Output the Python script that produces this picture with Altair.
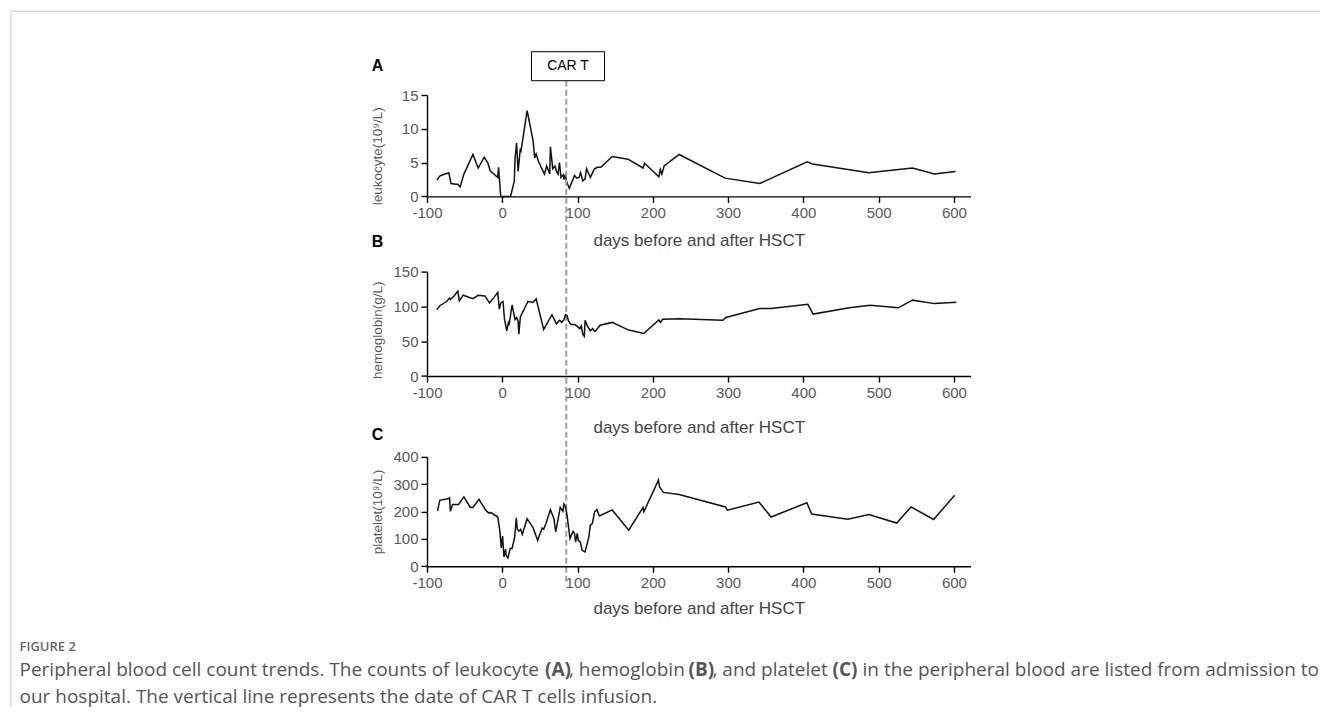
import altair as alt
import pandas as pd

# ---------------- data ----------------
x_ticks = [-100, 0, 100, 200, 300, 400, 500, 600]
car_t_day = 85

leuk_days = [-87, -83, -79, -71, -68, -62, -59, -56, -51, -39, -32, -24, -19, -16, -6, -5, -2, 11, 16, 17,
             19, 21, 24, 25, 33, 41, 43, 45, 48, 56, 59, 61, 63, 64, 67, 70, 72, 74, 76, 78,
             81, 82, 84, 85, 89, 92, 96, 99, 102, 104, 107, 110, 112, 117, 122, 126, 131, 146, 167, 187,
             189, 208, 210, 212, 215, 235, 296, 342, 405, 412, 487, 545, 574, 602]
leuk_vals = [2.4, 3.0, 3.2, 3.5, 1.9, 1.8, 1.8, 1.4, 3.3, 6.2, 4.2, 5.8, 4.9, 3.8, 2.8, 4.3, 0, 0, 2.3, 5.7,
             7.9, 3.7, 7.1, 6.8, 12.7, 8.2, 5.7, 6.3, 5.2, 3.3, 4.5, 3.9, 3.3, 7.3, 4.1, 4.5, 3.7, 3.3, 5.0, 2.8,
             3.2, 2.5, 3.3, 2.3, 1.2, 2.0, 3.1, 2.7, 2.8, 3.5, 2.3, 2.6, 4.1, 2.8, 4.0, 4.3, 4.3, 5.9, 5.5, 4.2,
             4.9, 2.9, 4.0, 3.3, 4.5, 6.2, 2.7, 1.9, 5.1, 4.8, 3.5, 4.2, 3.3, 3.7]

hgb_days = [-87, -83, -74, -70, -69, -64, -59, -57, -52, -39, -32, -23, -17, -11, -6, -4, -2, 1, 3, 6,
            8, 9, 13, 17, 19, 21, 22, 24, 34, 41, 45, 55, 66, 72, 76, 79, 82, 84, 86, 88,
            91, 96, 99, 103, 105, 107, 109, 110, 113, 117, 120, 123, 125, 130, 146, 168, 188, 208, 210, 213,
            235, 293, 297, 342, 357, 406, 413, 461, 489, 526, 545, 574, 603]
hgb_vals = [95, 101, 107, 112, 110, 115, 122, 108, 116, 111, 116, 115, 105, 113, 120, 96, 105, 107, 81, 65,
            76, 73, 102, 81, 84, 79, 60, 85, 107, 106, 111, 67, 88, 75, 80, 77, 81, 88, 87, 79,
            74, 74, 72, 68, 72, 60, 57, 80, 72, 65, 68, 64, 66, 73, 77, 66, 61, 80.5, 77, 81.5,
            82.4, 80, 84, 97, 97, 103, 89, 98, 101.5, 98, 109, 104, 106]

plt_days = [-86, -83, -71, -70, -69, -66, -58, -51, -42.5, -39, -31, -22, -18, -15, -6, -3.5, -1.3, 0.4, 2.2, 4.4,
            5, 7.5, 10.6, 13, 16.4, 18.6, 20, 22, 24.4, 26.6, 33, 41, 47, 53, 55, 58, 64, 68.6, 71, 75,
            77, 80.6, 82, 84, 86, 90, 94, 96, 97.4, 99.6, 101, 103.6, 106, 108, 110, 115, 117, 119.6, 122.7, 125.7,
            129, 146, 168, 187, 188, 207.5, 209, 214, 235, 296.5, 299, 341, 357, 404.6, 411, 459, 487, 524, 543, 573, 601]
plt_vals = [202, 241, 248, 250, 201, 226, 226, 254, 215, 215, 245, 205, 195, 196, 180, 135, 67, 110, 34, 62,
            40, 30, 65, 65, 105, 177, 135, 128, 135, 117, 174, 140, 95, 140, 135, 156, 207, 174, 126, 184,
            215, 201, 227, 217, 187, 101, 128, 120, 89, 120, 95, 89, 59, 55, 52, 107, 150, 156, 199, 207,
            184, 206, 132, 215, 199, 315, 290, 270, 262, 217, 205, 235, 180, 232, 191, 172, 189, 158, 217, 171, 260]

caption_head = ["FIGURE 2"]
caption_l1 = ["Peripheral blood cell count trends. The counts of leukocyte", "(A)", ", hemoglobin", "(B)",
              ", and platelet", "(C)", "in the peripheral blood are listed from admission to"]
caption_l1_bold = [False, True, False, True, False, True, False]
caption_l1_x = [19, 544.5, 568.5, 688, 712, 832, 862]
caption_l2 = ["our hospital. The vertical line represents the date of CAR T cells infusion."]

# ---------------- layout constants ----------------
OX, OY = 426.5, 94.3          # page position of panel A plot origin
W = 543.5
HA, HB, HC = 101.4, 104.4, 109.3
FONT = "Liberation Sans"
CAPFONT = "Open Sans"
CAPSIZE = 19
LABEL_COLOR = "#595959"


def one(**kw):
    return alt.Chart(pd.DataFrame({k: [v] for k, v in kw.items()}) if kw else pd.DataFrame({"d": [0]}))


def panel(days, vals, ytitle, ydomain, yticks, h, xtitle_y, ytitle_dy, label, label_y):
    df = pd.DataFrame({"day": days, "val": vals})
    x = alt.X("day:Q", scale=alt.Scale(domain=[-100, 622], nice=False, zero=False),
              axis=alt.Axis(values=x_ticks, labelExpr="datum.value", title="days before and after HSCT",
                            titleY=xtitle_y, titleBaseline="middle", titleFontSize=17,
                            titleColor="#444444", titleFontWeight="normal"))
    y = alt.Y("val:Q", scale=alt.Scale(domain=ydomain, nice=False, zero=True),
              axis=alt.Axis(values=yticks, title=ytitle, titleX=-50, titleY=h / 2 + ytitle_dy,
                            titleAngle=-90, titleAlign="center", titleBaseline="middle",
                            titleFontSize=13.5, titleColor=LABEL_COLOR, titleFontWeight="normal"))
    line = alt.Chart(df).mark_line(color="#111111", strokeWidth=1.5, strokeJoin="miter").encode(x=x, y=y)
    lab = one(t=label).mark_text(font=FONT, fontSize=16, fontWeight="bold", color="black",
                                 align="center", baseline="middle").encode(
        x=alt.value(377 - OX), y=alt.value(label_y), text="t:N")
    return alt.layer(line, lab).properties(width=W, height=h)


pA = panel(leuk_days, leuk_vals, "leukocyte(10⁹/L)", [0, 15], [0, 5, 10, 15], HA, 44, 10, "A", 65 - OY)
pB = panel(hgb_days, hgb_vals, "hemoglobin(g/L)", [0, 150], [0, 50, 100, 150], HB, 51, 6, "B", -29.3)
pC = panel(plt_days, plt_vals, "platelet(10⁹/L)", [0, 400], [0, 100, 200, 300, 400], HC, 42, 0, "C", -22)

# decorations drawn in panel A's coordinate frame (page coords minus OX/OY)
deco = []
deco.append(one(d=car_t_day).mark_rule(color="#9e9e9e", strokeWidth=2, strokeDash=[6, 3]).encode(
    x=alt.X("d:Q", scale=alt.Scale(domain=[-100, 622], nice=False, zero=False)),
    y=alt.value(80 - OY), y2=alt.value(582 - OY)))
deco.append(one().mark_rect(fill="white", stroke="black", strokeWidth=1).encode(
    x=alt.value(531 - OX), x2=alt.value(604 - OX), y=alt.value(51 - OY), y2=alt.value(80 - OY)))
deco.append(one(t="CAR T").mark_text(font=FONT, fontSize=14, color="black", align="center",
                                     baseline="middle").encode(
    x=alt.value(567.5 - OX), y=alt.value(65.5 - OY), text="t:N"))
# page frame
deco.append(one().mark_rule(color="#c8c8c8", strokeWidth=1).encode(
    x=alt.value(10.5 - OX), x2=alt.value(1320 - OX), y=alt.value(10.5 - OY)))
deco.append(one().mark_rule(color="#c8c8c8", strokeWidth=1).encode(
    x=alt.value(10.5 - OX), y=alt.value(10.5 - OY), y2=alt.value(706 - OY)))
# caption
deco.append(one(t=caption_head[0]).mark_text(font=CAPFONT, fontSize=13, fontWeight=600, color="#666666",
                                            align="left", baseline="middle").encode(
    x=alt.value(19 - OX), y=alt.value(646 - OY), text="t:N"))
for seg, b, sx in zip(caption_l1, caption_l1_bold, caption_l1_x):
    deco.append(one(t=seg).mark_text(font=CAPFONT, fontSize=CAPSIZE, fontWeight="bold" if b else "normal",
                                     color="#555555", align="left", baseline="middle").encode(
        x=alt.value(sx - OX), y=alt.value(669 - OY), text="t:N"))
deco.append(one(t=caption_l2[0]).mark_text(font=CAPFONT, fontSize=CAPSIZE, color="#555555",
                                         align="left", baseline="middle").encode(
    x=alt.value(19 - OX), y=alt.value(696 - OY), text="t:N"))

pA = alt.layer(pA, *deco).properties(width=W, height=HA)

inner = alt.vconcat(pB, pC, spacing=80.3, bounds="flush")
chart = alt.vconcat(pA, inner, spacing=74.6, bounds="flush").properties(
    padding={"left": 2, "top": 2, "right": 0, "bottom": 0}, background="white")

chart = chart.configure_view(stroke=None).configure_axis(
    grid=False, domainColor="black", tickColor="black", domainWidth=1.4, tickWidth=1.4, tickSize=6,
    labelFont=FONT, titleFont=FONT, labelFontSize=15, labelColor=LABEL_COLOR, labelPadding=3,
    labelFlush=False, labelOverlap=False
)

chart.save("out.html", embed_options={"renderer": "svg", "actions": False})
